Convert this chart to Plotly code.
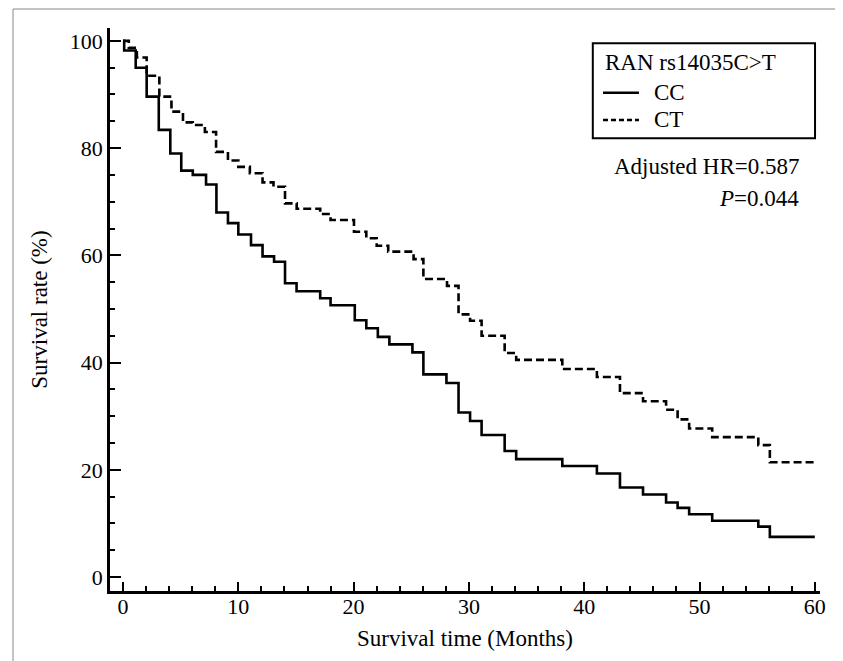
import plotly.graph_objects as go

# Kaplan-Meier step data
cc_time = [0, 0.1, 1.1, 2.05, 3.1, 4.1, 5.05, 6.05, 7.2, 8.1, 9.1, 10.0, 11.1, 12.1, 13.1,
           14.05, 15.05, 17.1, 18.0, 20.1, 21.1, 22.1, 23.1, 25.1, 26.05, 28.05, 29.1, 30.1,
           31.1, 33.1, 34.1, 38.1, 41.1, 43.1, 45.1, 47.1, 48.1, 49.1, 51.1, 55.1, 56.1, 60.0]
cc_surv = [100, 98.2, 95.0, 89.6, 83.4, 79.0, 75.8, 75.0, 73.2, 68.0, 66.0, 63.9, 61.9, 59.8, 58.8,
           54.8, 53.3, 52.0, 50.7, 47.9, 46.4, 44.8, 43.4, 41.9, 37.8, 36.2, 30.7, 29.1,
           26.5, 23.5, 22.0, 20.7, 19.3, 16.7, 15.4, 13.9, 12.9, 11.7, 10.5, 9.4, 7.5, 7.5]

ct_time = [0, 0.5, 1.2, 2.05, 3.15, 4.2, 5.2, 6.05, 7.1, 8.07, 9.1, 10.0, 11.0, 12.1, 13.05,
           14.05, 15.06, 17.1, 18.0, 20.03, 21.1, 22.0, 23.0, 25.2, 26.05, 28.1, 29.1, 30.1,
           31.1, 33.1, 34.1, 38.1, 41.1, 43.1, 45.1, 47.1, 48.1, 49.1, 51.1, 55.1, 56.1, 60.0]
ct_surv = [100, 98.7, 96.9, 93.5, 89.6, 86.8, 84.8, 84.3, 83.0, 79.3, 77.7, 76.5, 75.3, 73.6, 72.8,
           69.7, 68.7, 67.7, 66.6, 64.4, 63.2, 61.8, 60.7, 59.3, 55.6, 54.3, 49.0, 47.8,
           45.0, 41.8, 40.5, 38.8, 37.3, 34.3, 32.8, 31.2, 29.4, 27.7, 26.1, 24.6, 21.4, 21.4]

group_names = ["CC", "CT"]
legend_title = "RAN rs14035C>T"
hr_text = "Adjusted HR=0.587"
p_text = "<i>P</i>=0.044"
x_title = "Survival time (Months)"
y_title = "Survival rate (%)"

FONT = "Liberation Serif, Times New Roman, serif"
LW = 2.6
DASH = "8px,4px"

fig = go.Figure()
fig.add_trace(go.Scatter(x=cc_time, y=cc_surv, mode="lines", line_shape="hv",
                         line=dict(color="black", width=LW), name=group_names[0]))
fig.add_trace(go.Scatter(x=ct_time, y=ct_surv, mode="lines", line_shape="hv",
                         line=dict(color="black", width=LW, dash=DASH), name=group_names[1]))

# manual legend (paper coordinates)
leg_x0, leg_x1, leg_y0, leg_y1 = 0.680, 0.993, 0.804, 0.973
sample_x0, sample_x1, label_x = 0.6944, 0.745, 0.763
row_y = [0.885, 0.8366]

shapes = [
    dict(type="rect", xref="paper", yref="paper", x0=leg_x0, x1=leg_x1, y0=leg_y0, y1=leg_y1,
         line=dict(color="black", width=2), fillcolor="white", layer="above"),
    dict(type="line", xref="paper", yref="paper", x0=sample_x0, x1=sample_x1, y0=row_y[0], y1=row_y[0],
         line=dict(color="black", width=LW)),
    dict(type="line", xref="paper", yref="paper", x0=sample_x0, x1=sample_x1, y0=row_y[1], y1=row_y[1],
         line=dict(color="black", width=LW, dash="5px,3px")),
    # outer frame of the figure
    dict(type="line", xref="paper", yref="paper", x0=-0.1366, x1=-0.1366, y0=1.0337, y1=-0.2,
         line=dict(color="#888888", width=1)),
    dict(type="line", xref="paper", yref="paper", x0=-0.1366, x1=1.0225, y0=1.0337, y1=1.0337,
         line=dict(color="#888888", width=1)),
]

annotations = [
    dict(text=legend_title, xref="paper", yref="paper", x=sample_x0, y=0.938,
         xanchor="left", yanchor="middle", showarrow=False, font=dict(family=FONT, size=23)),
    dict(text=group_names[0], xref="paper", yref="paper", x=label_x, y=row_y[0],
         xanchor="left", yanchor="middle", showarrow=False, font=dict(family=FONT, size=23)),
    dict(text=group_names[1], xref="paper", yref="paper", x=label_x, y=row_y[1],
         xanchor="left", yanchor="middle", showarrow=False, font=dict(family=FONT, size=23)),
    dict(text=hr_text, xref="paper", yref="paper", x=0.973, y=0.754,
         xanchor="right", yanchor="middle", showarrow=False, font=dict(family=FONT, size=23)),
    dict(text=p_text, xref="paper", yref="paper", x=0.973, y=0.698,
         xanchor="right", yanchor="middle", showarrow=False, font=dict(family=FONT, size=23)),
]

fig.update_layout(
    width=843, height=661,
    margin=dict(l=102, r=31, t=20, b=78, autoexpand=False),
    paper_bgcolor="white", plot_bgcolor="white",
    font=dict(family=FONT, size=22, color="black"),
    showlegend=False,
    xaxis=dict(
        range=[-1.13, 60.45], showgrid=False, zeroline=False, automargin=False,
        showline=True, linecolor="black", linewidth=2.5,
        ticks="inside", ticklen=9, tickwidth=2, tickcolor="black",
        tick0=0, dtick=10, ticklabelstandoff=-6,
        minor=dict(ticks="inside", ticklen=5, tickwidth=2, tickcolor="black", dtick=2, tick0=0),
        tickfont=dict(family=FONT, size=22),
        title=dict(text=x_title, font=dict(family=FONT, size=23), standoff=12),
    ),
    yaxis=dict(
        range=[-2.6, 102.4], showgrid=False, zeroline=False, automargin=False,
        showline=True, linecolor="black", linewidth=2.5,
        ticks="inside", ticklen=11, tickwidth=2, tickcolor="black",
        tick0=0, dtick=20,
        minor=dict(ticks="inside", ticklen=5, tickwidth=2, tickcolor="black", dtick=5, tick0=0),
        tickfont=dict(family=FONT, size=22),
        title=dict(text=y_title, font=dict(family=FONT, size=23), standoff=16),
    ),
    annotations=annotations,
    shapes=shapes,
)

fig.write_html("out.html")
